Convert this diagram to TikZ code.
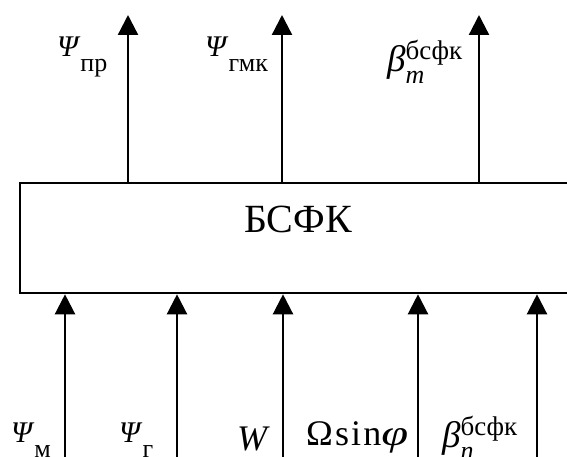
\documentclass[tikz,border=0pt]{standalone}
\usepackage{graphicx}
\usepackage{fontspec}
\setmainfont{Liberation Serif}
\usetikzlibrary{arrows.meta,positioning}

\newcommand{\smallfs}{\fontsize{26}{28}\selectfont}
\newcommand{\lsub}[1]{\raisebox{-15pt}{\smallfs #1}}
\newcommand{\lsupsub}[2]{\rlap{\raisebox{-12pt}{\smallfs\itshape #2}}\raisebox{12pt}{\fontsize{27}{29}\selectfont #1}}
\newcommand{\bigbeta}{{\fontsize{37}{39}\selectfont\itshape β}}

\tikzset{
  lbl/.style={font=\fontsize{30}{32}\selectfont,inner sep=0pt,anchor=base west},
  biglbl/.style={lbl,font=\fontsize{36}{38}\selectfont},
  blkbox/.style={draw,inner sep=0pt,anchor=north west}
}

\begin{document}
\begin{tikzpicture}[x=1pt,y=-1pt,>={Triangle[length=20pt,width=20pt]},line width=2.3pt]
\clip (0,0) rectangle (567,457);
\node[blkbox,minimum width=620pt,minimum height=110pt] (blk) at (19,182) {};
\node[font=\fontsize{40}{44}\selectfont] (name) at (298,219) {БСФК};
\foreach \n/\x in {o1/128,o2/282,o3/479}
  \coordinate (\n) at (\x,15);
\foreach \n in {o1,o2,o3}
  \draw[->] (blk.north -| \n) -- (\n);
\foreach \n/\x in {i1/65,i2/177,i3/283,i4/418,i5/537}
  \coordinate (\n) at (\x,470);
\foreach \n in {i1,i2,i3,i4,i5}
  \draw[->] (\n) -- (blk.south -| \n);
\node[lbl] (lpr) at (56,57) {\textit{Ψ}\lsub{пр}};
\node[lbl] (lgmk) at (204,57) {\textit{Ψ}\lsub{гмк}};
\node[lbl] (lbm) at (386,72) {\bigbeta\lsupsub{бсфк}{m}};
\node[lbl] (lm) at (10,442) {\textit{Ψ}\lsub{м}};
\node[lbl] (lg) at (118,442) {\textit{Ψ}\lsub{г}};
\node[biglbl] (lw) at (236,450) {\textit{W}};
\node[biglbl] (lom) at (305,445) {\addfontfeature{LetterSpace=6}Ωsin\scalebox{1.35}[1]{\textit{φ}}};
\node[lbl] (lbn) at (441,447) {\bigbeta\lsupsub{бсфк}{n}};
\end{tikzpicture}
\end{document}
